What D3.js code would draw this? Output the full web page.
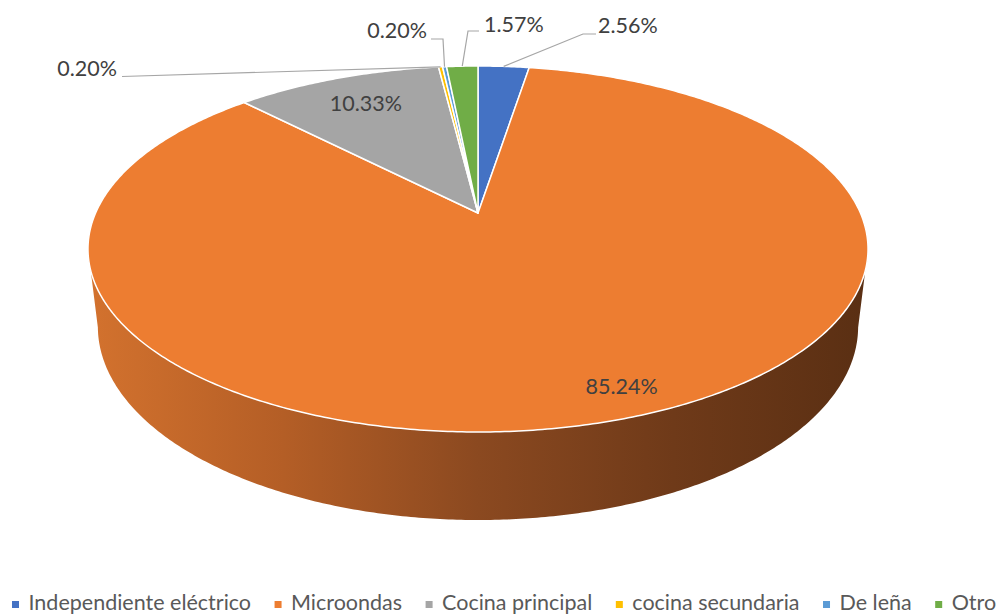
<!DOCTYPE html>
<html>
<head>
<meta charset="utf-8">
<script src="https://cdn.jsdelivr.net/npm/d3@7"></script>
<style>
  html, body { margin: 0; padding: 0; background: #fff; }
  svg { display: block; }
</style>
</head>
<body>
<svg id="chart" width="998" height="615"></svg>
<script>
// ---- data ----
const categories = ["Independiente eléctrico", "Microondas", "Cocina principal", "cocina secundaria", "De leña", "Otro"];
const values = [2.56, 85.24, 10.33, 0.20, 0.20, 1.57];
const valueLabels = ["2.56%", "85.24%", "10.33%", "0.20%", "0.20%", "1.57%"];
const colors = ["#4472C4", "#ED7D31", "#A5A5A5", "#FFC000", "#5B9BD5", "#70AD47"];

// ---- layout (perspective projection of a 3D pie) ----
const P = { cx: 478, cy: 213, A: 382.4, B: 175.9, k: -0.1967, m: -0.025, E: -78.4 };
function proj(u, v, h) {
  const w = 1 + P.k * v + P.m * h;
  return [P.cx + P.A * u / w, P.cy + (P.B * v + P.E * h) / w];
}
function rim(theta, r, h) { return proj(r * Math.sin(theta), -r * Math.cos(theta), h); }

const svg = d3.select("#chart");
const FONT = "Lato, 'Open Sans', sans-serif";

const pie = d3.pie().sort(null).value(d => d)(values);

// side gradient
const defs = svg.append("defs");
const grad = defs.append("linearGradient").attr("id", "sideGrad")
  .attr("gradientUnits", "userSpaceOnUse").attr("x1", 88).attr("x2", 868).attr("y1", 0).attr("y2", 0);
[[0, "#D3722E"], [0.25, "#B45E26"], [0.5, "#8B4920"], [0.75, "#6F3A19"], [1, "#5A2F13"]]
  .forEach(s => grad.append("stop").attr("offset", s[0]).attr("stop-color", s[1]));

// silhouette angles (extreme x of top rim)
let thR = 0, thL = 0, maxX = -1e9, minX = 1e9;
for (let i = 0; i <= 3600; i++) {
  const t = i / 3600 * 2 * Math.PI;
  const p = rim(t, 1, 0);
  if (p[0] > maxX) { maxX = p[0]; thR = t; }
  if (p[0] < minX) { minX = p[0]; thL = t; }
}
// side wall (front visible part; only the large slice is visible there)
const sidePts = [];
const N = 300;
for (let i = 0; i <= N; i++) { const t = thR + (thL - thR) * i / N; sidePts.push(rim(t, 1, 0)); }
for (let i = N; i >= 0; i--) { const t = thR + (thL - thR) * i / N; sidePts.push(rim(t, 1, -1)); }
svg.append("path")
  .attr("d", d3.line()(sidePts) + "Z")
  .attr("fill", "url(#sideGrad)");

// top slices
svg.append("g").selectAll("path").data(pie).join("path")
  .attr("d", d => {
    const pts = [proj(0, 0, 0)];
    const n = Math.max(2, Math.ceil((d.endAngle - d.startAngle) / 0.01));
    for (let i = 0; i <= n; i++) pts.push(rim(d.startAngle + (d.endAngle - d.startAngle) * i / n, 1, 0));
    return d3.line()(pts) + "Z";
  })
  .attr("fill", (d, i) => colors[i])
  .attr("stroke", "#fff").attr("stroke-width", 1.5).attr("stroke-linejoin", "round");

// labels
const inside = { 1: { r: 0.882, dt: -3.4 }, 2: { r: 0.79, dt: 0.6 } };
const outside = {
  0: { elbow: [583, 34], end: [596, 34], text: [598, 33.3], anchor: "start" },
  5: { elbow: [468, 31], end: [479, 31], text: [484, 31.7], anchor: "start" },
  4: { elbow: [443, 39], end: [431, 39], text: [427, 37.7], anchor: "end" },
  3: { elbow: null, end: [122, 76.5], text: [117, 76], anchor: "end" }
};
const lab = svg.append("g").attr("font-family", FONT).attr("font-size", 21.5).attr("fill", "#404040");
pie.forEach((d, i) => {
  const mid = (d.startAngle + d.endAngle) / 2;
  if (inside[i] !== undefined) {
    const p = rim(mid + inside[i].dt * Math.PI / 180, inside[i].r, 0);
    lab.append("text").attr("x", p[0]).attr("y", p[1] + 8).attr("text-anchor", "middle").text(valueLabels[i]);
  } else {
    const o = outside[i];
    const a = rim(mid, 1, 0);
    const pts = [a];
    if (o.elbow) pts.push(o.elbow);
    pts.push(o.end);
    svg.append("path").attr("d", d3.line()(pts)).attr("fill", "none")
      .attr("stroke", "#A6A6A6").attr("stroke-width", 1.2);
    lab.append("text").attr("x", o.text[0]).attr("y", o.text[1]).attr("text-anchor", o.anchor).text(valueLabels[i]);
  }
});

// legend
const leg = svg.append("g").attr("font-family", FONT).attr("font-size", 21.5).attr("fill", "#595959");
let lx = 12;
categories.forEach((c, i) => {
  leg.append("rect").attr("x", lx).attr("y", 601).attr("width", 7).attr("height", 7).attr("fill", colors[i]);
  const t = leg.append("text").attr("x", lx + 16.5).attr("y", 609.5).text(c);
  lx = lx + 16.5 + t.node().getComputedTextLength() + 23.5;
});
</script>
</body>
</html>
